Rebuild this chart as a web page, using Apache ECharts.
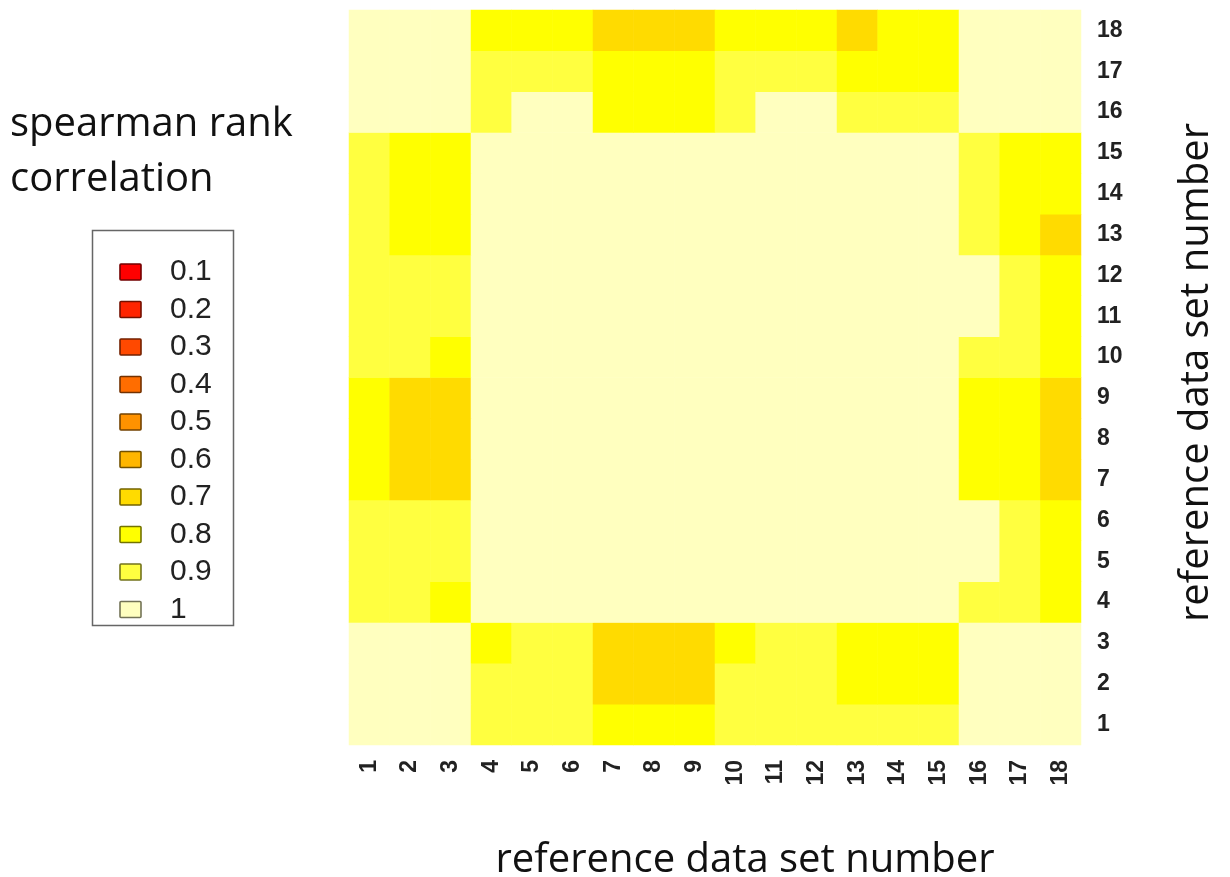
<!DOCTYPE html>
<html>
<head>
<meta charset="utf-8">
<script src="https://cdn.jsdelivr.net/npm/echarts@6/dist/echarts.min.js"></script>
<style>html,body{margin:0;padding:0;background:#fff}#c{width:1230px;height:877px}</style>
</head>
<body>
<div id="c"></div>
<script>
// categories (reference data set numbers)
const xCategories = ['1','2','3','4','5','6','7','8','9','10','11','12','13','14','15','16','17','18'];
const yCategories = ['1','2','3','4','5','6','7','8','9','10','11','12','13','14','15','16','17','18'];
// legend levels and colours
const levels = [0.1, 0.2, 0.3, 0.4, 0.5, 0.6, 0.7, 0.8, 0.9, 1];
const levelLabels = ['0.1','0.2','0.3','0.4','0.5','0.6','0.7','0.8','0.9','1'];
const levelColors = ['#FF0000','#FF2400','#FF4900','#FF6D00','#FF9200','#FFB600','#FFDB00','#FFFF00','#FFFF40','#FFFFBF'];
// spearman rank correlation, rows = y (1 at bottom .. 18 at top), columns = x 1..18
const row1  = [1,1,1,0.9,0.9,0.9,0.8,0.8,0.8,0.9,0.9,0.9,0.9,0.9,0.9,1,1,1];
const row2  = [1,1,1,0.9,0.9,0.9,0.7,0.7,0.7,0.9,0.9,0.9,0.8,0.8,0.8,1,1,1];
const row3  = [1,1,1,0.8,0.9,0.9,0.7,0.7,0.7,0.8,0.9,0.9,0.8,0.8,0.8,1,1,1];
const row4  = [0.9,0.9,0.8,1,1,1,1,1,1,1,1,1,1,1,1,0.9,0.9,0.8];
const row5  = [0.9,0.9,0.9,1,1,1,1,1,1,1,1,1,1,1,1,1,0.9,0.8];
const row6  = [0.9,0.9,0.9,1,1,1,1,1,1,1,1,1,1,1,1,1,0.9,0.8];
const row7  = [0.8,0.7,0.7,1,1,1,1,1,1,1,1,1,1,1,1,0.8,0.8,0.7];
const row8  = [0.8,0.7,0.7,1,1,1,1,1,1,1,1,1,1,1,1,0.8,0.8,0.7];
const row9  = [0.8,0.7,0.7,1,1,1,1,1,1,1,1,1,1,1,1,0.8,0.8,0.7];
const row10 = [0.9,0.9,0.8,1,1,1,1,1,1,1,1,1,1,1,1,0.9,0.9,0.8];
const row11 = [0.9,0.9,0.9,1,1,1,1,1,1,1,1,1,1,1,1,1,0.9,0.8];
const row12 = [0.9,0.9,0.9,1,1,1,1,1,1,1,1,1,1,1,1,1,0.9,0.8];
const row13 = [0.9,0.8,0.8,1,1,1,1,1,1,1,1,1,1,1,1,0.9,0.8,0.7];
const row14 = [0.9,0.8,0.8,1,1,1,1,1,1,1,1,1,1,1,1,0.9,0.8,0.8];
const row15 = [0.9,0.8,0.8,1,1,1,1,1,1,1,1,1,1,1,1,0.9,0.8,0.8];
const row16 = [1,1,1,0.9,1,1,0.8,0.8,0.8,0.9,1,1,0.9,0.9,0.9,1,1,1];
const row17 = [1,1,1,0.9,0.9,0.9,0.8,0.8,0.8,0.9,0.9,0.9,0.8,0.8,0.8,1,1,1];
const row18 = [1,1,1,0.8,0.8,0.8,0.7,0.7,0.7,0.8,0.8,0.8,0.7,0.8,0.8,1,1,1];
const rows = [row1,row2,row3,row4,row5,row6,row7,row8,row9,row10,row11,row12,row13,row14,row15,row16,row17,row18];

const data = [];
rows.forEach((r, yi) => r.forEach((v, xi) => data.push([xi, yi, v])));

const pieces = levels.map((lv, i) => ({
  gt: +(lv - 0.05).toFixed(2), lte: +(lv + 0.05).toFixed(2),
  label: levelLabels[i], color: levelColors[i]
}));

function darken(hex, f) {
  const n = parseInt(hex.slice(1), 16);
  const r = Math.round(((n >> 16) & 255) * f), g = Math.round(((n >> 8) & 255) * f), b = Math.round((n & 255) * f);
  return 'rgb(' + r + ',' + g + ',' + b + ')';
}

// legend drawn as graphic (box, swatches, labels)
const legendBox = {x: 92, y: 230, w: 141, h: 395};
const legendFirstY = 272, legendStep = 37.5;
const legendChildren = [{
  type: 'rect',
  shape: {x: legendBox.x + 0.5, y: legendBox.y + 0.5, width: legendBox.w, height: legendBox.h},
  style: {fill: '#fff', stroke: '#666', lineWidth: 1.5}
}];
levels.forEach((lv, i) => {
  const cy = legendFirstY + i * legendStep;
  legendChildren.push({
    type: 'rect',
    shape: {x: 120, y: cy - 8, width: 21, height: 16, r: 1},
    style: {fill: levelColors[i], stroke: darken(levelColors[i], 0.45), lineWidth: 1.6}
  });
  legendChildren.push({
    type: 'text',
    x: 170, y: cy,
    style: {text: levelLabels[i], fontFamily: 'Liberation Sans, Arial, sans-serif', fontSize: 30,
            fill: '#222', textVerticalAlign: 'middle', verticalAlign: 'middle', textAlign: 'left'}
  });
});

const chart = echarts.init(document.getElementById('c'), null, {renderer: 'canvas'});
const nameFont = '"Open Sans", sans-serif';
chart.setOption({
  animation: false,
  backgroundColor: '#ffffff',
  title: {
    text: 'spearman rank\ncorrelation',
    left: 5, top: 92,
    textStyle: {fontFamily: nameFont, fontSize: 40, fontWeight: 'normal', color: '#111', lineHeight: 55}
  },
  grid: {left: 349, top: 10, width: 732, height: 735, containLabel: false, outerBoundsMode: 'none'},
  xAxis: {
    type: 'category', data: xCategories, position: 'bottom',
    axisLine: {show: false}, axisTick: {show: false}, splitLine: {show: false},
    axisLabel: {rotate: 90, margin: 15, fontFamily: 'Liberation Sans, Arial, sans-serif', fontSize: 23, fontWeight: 'bold', color: '#222'},
    name: 'reference data set number', nameLocation: 'middle', nameGap: 96,
    nameTextStyle: {fontFamily: nameFont, fontSize: 40, color: '#111', verticalAlign: 'top', padding: [0, 0, 0, 60]}
  },
  yAxis: {
    type: 'category', data: yCategories, position: 'right',
    axisLine: {show: false}, axisTick: {show: false}, splitLine: {show: false},
    axisLabel: {margin: 16, fontFamily: 'Liberation Sans, Arial, sans-serif', fontSize: 23, fontWeight: 'bold', color: '#222'},
    name: 'reference data set number', nameLocation: 'middle', nameGap: 96, nameRotate: 90,
    nameTextStyle: {fontFamily: nameFont, fontSize: 40, color: '#111', padding: [0, 0, 0, 10]}
  },
  visualMap: {
    type: 'piecewise',
    show: false,
    pieces: pieces
  },
  graphic: [{type: 'group', silent: true, children: legendChildren}],
  series: [{
    type: 'heatmap',
    data: data,
    itemStyle: {borderWidth: 0},
    emphasis: {disabled: true}
  }]
});
</script>
</body>
</html>
